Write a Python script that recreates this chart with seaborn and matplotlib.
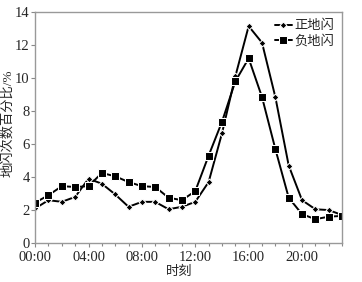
import matplotlib
matplotlib.use('Agg')
import matplotlib.pyplot as plt
import seaborn as sns
import pandas as pd
from matplotlib.ticker import MultipleLocator

hours = list(range(24))
positive = [2.1, 2.6, 2.5, 2.8, 3.9, 3.6, 2.95, 2.2, 2.5, 2.5, 2.05, 2.2,
            2.5, 3.7, 6.65, 10.1, 13.15, 12.15, 8.85, 4.7, 2.6, 2.05, 2.0, 1.7]
negative = [2.45, 2.9, 3.45, 3.4, 3.45, 4.25, 4.05, 3.7, 3.45, 3.4, 2.75, 2.6,
            3.15, 5.3, 7.35, 9.8, 11.2, 8.85, 5.7, 2.75, 1.75, 1.45, 1.6, 1.65]
tick_hours = [0, 4, 8, 12, 16, 20]
tick_labels = ['00:00', '04:00', '08:00', '12:00', '16:00', '20:00']

df = pd.DataFrame({'hour': hours + hours,
                   'pct': positive + negative,
                   'type': ['正地闪'] * 24 + ['负地闪'] * 24})

sns.set_style('ticks')
plt.rcParams['font.family'] = ['Liberation Serif', 'Noto Sans CJK SC']

fig = plt.figure(figsize=(3.62, 2.82), dpi=100)
ax = fig.add_axes([0.097, 0.138, 0.848, 0.819])

sns.lineplot(data=df, x='hour', y='pct', hue='type', style='type',
             markers={'正地闪': 'D', '负地闪': 's'},
             dashes=False, palette={'正地闪': 'black', '负地闪': 'black'},
             markersize=4, linewidth=1.4, ax=ax)
for line in ax.lines:
    if line.get_marker() == 's':
        line.set_markersize(6)
    else:
        line.set_markersize(3.5)

ax.set_xlim(0, 23)
ax.set_ylim(0, 14)
ax.set_xticks(tick_hours)
ax.set_xticklabels(tick_labels)
ax.xaxis.set_minor_locator(MultipleLocator(1))
ax.set_yticks(range(0, 15, 2))
ax.tick_params(axis='both', labelsize=10.5, length=3, width=0.8, color='#888888', pad=1)
ax.tick_params(axis='x', pad=3)
ax.tick_params(axis='x', which='minor', length=2, width=0.8, color='#888888')
for sp in ax.spines.values():
    sp.set_color('#999999')
    sp.set_linewidth(1)

ax.set_xlabel('时刻', fontsize=9.5)
ax.set_ylabel('地闪次数百分比/%', fontsize=9.5)
ax.xaxis.set_label_coords(0.47, -0.097)
ax.yaxis.set_label_coords(-0.068, 0.52)

leg = ax.legend(loc='upper right', frameon=False, fontsize=9.5, handlelength=1.3,
                handletextpad=0.2, borderaxespad=0.2, labelspacing=0.15)
for h in leg.legend_handles:
    h.set_color('black')

fig.savefig('out.png', dpi=100)
